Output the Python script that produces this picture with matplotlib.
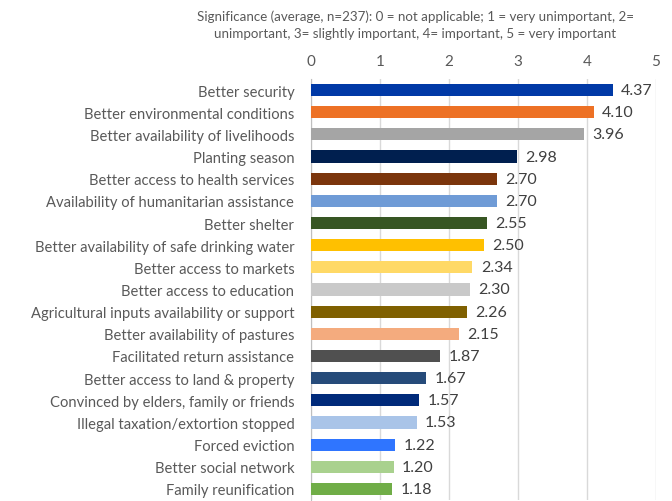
import matplotlib
matplotlib.use("Agg")
import matplotlib.pyplot as plt

# reasons for return, top to bottom
labels = [
    "Better security",
    "Better environmental conditions",
    "Better availability of livelihoods",
    "Planting season",
    "Better access to health services",
    "Availability of humanitarian assistance",
    "Better shelter",
    "Better availability of safe drinking water",
    "Better access to markets",
    "Better access to education",
    "Agricultural inputs availability or support",
    "Better availability of pastures",
    "Facilitated return assistance",
    "Better access to land & property",
    "Convinced by elders, family or friends",
    "Illegal taxation/extortion stopped",
    "Forced eviction",
    "Better social network",
    "Family reunification",
]
values = [4.37, 4.10, 3.96, 2.98, 2.70, 2.70, 2.55, 2.50, 2.34, 2.30,
          2.26, 2.15, 1.87, 1.67, 1.57, 1.53, 1.22, 1.20, 1.18]
colors = ["#0039A6", "#ED7125", "#A5A5A5", "#001F4F", "#7B350C", "#6F9BD6",
          "#375623", "#FFC000", "#FFD966", "#C9C9C9", "#7F6000", "#F4AB7E",
          "#505050", "#264B7A", "#002A7A", "#A9C4E8", "#2F75FF", "#A9D18E",
          "#70AD47"]
xticks = [0, 1, 2, 3, 4, 5]
title = ("Significance (average, n=237): 0 = not applicable; 1 = very unimportant, 2=\n"
         "unimportant, 3= slightly important, 4= important, 5 = very important")

plt.rcParams['font.family'] = ['Lato', 'DejaVu Sans']
text_col = "#595959"

fig = plt.figure(figsize=(6.72, 5.02), dpi=100)
ax = fig.add_axes([311 / 672, 1 / 502, 345 / 672, 421 / 502])

pos = list(range(len(labels)))
ax.barh(pos, values, height=0.55, color=colors, zorder=3)
for y, v in zip(pos, values):
    ax.text(v + 0.12, y, f"{v:.2f}", va="center", ha="left",
            fontsize=11.5, color="#404040")

ax.set_xlim(0, 5)
ax.set_ylim(len(labels) - 0.5, -0.5)
ax.set_yticks(pos)
ax.set_yticklabels(labels, fontsize=10.6, color=text_col)
ax.set_xticks(xticks)
ax.set_xticklabels([str(t) for t in xticks], fontsize=11, color=text_col)
ax.xaxis.tick_top()
ax.tick_params(axis="both", length=0)
ax.tick_params(axis="x", pad=8)
ax.tick_params(axis="y", pad=12)
ax.grid(axis="x", color="#D9D9D9", linewidth=1, zorder=0)
for s in ["top", "right", "bottom"]:
    ax.spines[s].set_visible(False)
ax.spines["left"].set_color("#BFBFBF")

fig.text(0.618, 0.95, title, ha="center", va="center", fontsize=9.6,
         color=text_col, linespacing=1.45)

fig.savefig("out.png", dpi=100)
